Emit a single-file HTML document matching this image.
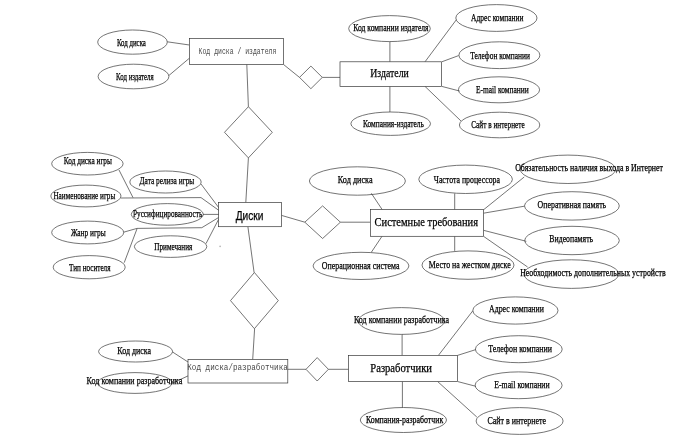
<!DOCTYPE html>
<html><head><meta charset="utf-8"><title>ER</title>
<style>html,body{margin:0;padding:0;background:#fff}svg{display:block;filter:blur(0.25px)}</style></head>
<body>
<svg width="675" height="446" viewBox="0 0 675 446">
<rect x="0" y="0" width="675" height="446" fill="#fff"/>
<g fill="none" stroke="#333" stroke-width="0.68">
<polyline points="167.3,41.8 189.4,45"/>
<polyline points="168.9,75.5 189.4,58.2"/>
<polyline points="283.4,64.4 299.5,77.4"/>
<polyline points="322.3,77.4 340,77.4"/>
<polyline points="246.8,64.4 248.4,106.7"/>
<polyline points="248.4,157.9 245.8,202.5"/>
<polyline points="389.9,41.6 389.9,61.8"/>
<polyline points="389.9,86.4 389.9,112"/>
<polyline points="425,61.8 456.3,19.8"/>
<polyline points="441.8,61.8 458.6,55.6"/>
<polyline points="441.8,86.4 459.5,91"/>
<polyline points="425,86.4 461,121"/>
<polyline points="119,170 133,197.6"/>
<polyline points="121,198 201,197.6 219,210.5"/>
<polyline points="201,184 219,208"/>
<polyline points="203,214.4 219,214.4"/>
<polyline points="123.6,232.2 137,228.4 201.8,227.7 218.6,217.5"/>
<polyline points="124.2,262.7 137,228.8"/>
<polyline points="206,243.6 218.6,219.3"/>
<polyline points="281.5,215.4 304.8,222.2"/>
<polyline points="340.4,222.2 370.4,222.2"/>
<polyline points="371.3,193.3 382.2,209.6"/>
<polyline points="382,236.3 371.3,252.3"/>
<polyline points="454.7,193.5 454.7,209.6"/>
<polyline points="454.7,236.3 454.7,250.9"/>
<polyline points="483.5,209.8 524.2,177"/>
<polyline points="483.5,213.2 524.4,206.2"/>
<polyline points="483.5,230.3 526.3,241.3"/>
<polyline points="483.5,236.3 527.6,267"/>
<polyline points="247.9,226.7 254.1,272.5"/>
<polyline points="254.6,328.7 252.7,359.5"/>
<polyline points="172.4,351.9 188,362"/>
<polyline points="172.1,383.3 188,375.9"/>
<polyline points="287.8,369.3 306,369.3"/>
<polyline points="328.4,369.3 348.6,369.3"/>
<polyline points="402.1,334.4 402.1,355.4"/>
<polyline points="402.4,381.5 402.4,407.5"/>
<polyline points="438.4,355.4 472.8,310.8"/>
<polyline points="457.5,355.4 475.8,349.6"/>
<polyline points="457.5,381.5 475.8,386.3"/>
<polyline points="437.6,381.5 476.8,417"/>
<polygon points="310.9,66.1 322.3,77.4 310.9,88.7 299.5,77.4" fill="#fff"/>
<polygon points="248.4,106.7 272.3,132.3 248.4,157.9 224.5,132.3" fill="#fff"/>
<polygon points="322.6,205.9 340.4,222.2 322.6,238.5 304.8,222.2" fill="#fff"/>
<polygon points="254.4,272.5 278.3,300.6 254.4,328.7 230.5,300.6" fill="#fff"/>
<polygon points="317.2,357.6 328.4,369.3 317.2,381 306,369.3" fill="#fff"/>
<rect x="189.4" y="38.4" width="94" height="26" fill="#fff"/>
<rect x="340" y="61.8" width="101.4" height="24.6" fill="#fff"/>
<rect x="218.6" y="202.5" width="62.9" height="24.2" fill="#fff"/>
<rect x="370.4" y="209.6" width="113.1" height="26.7" fill="#fff"/>
<rect x="188" y="359.5" width="99.8" height="23.5" fill="#fff"/>
<rect x="348.6" y="355.4" width="108.9" height="26.1" fill="#fff"/>
<ellipse cx="132.5" cy="42.1" rx="34.8" ry="12.1"/>
<ellipse cx="133.5" cy="76.5" rx="35.4" ry="12.3"/>
<ellipse cx="389.5" cy="28.6" rx="40.8" ry="13"/>
<ellipse cx="390.7" cy="123.7" rx="39.8" ry="11.7"/>
<ellipse cx="496.4" cy="18" rx="40.6" ry="13.4"/>
<ellipse cx="499.4" cy="55.2" rx="40.5" ry="13.4"/>
<ellipse cx="499" cy="89.8" rx="40.6" ry="13"/>
<ellipse cx="499.6" cy="125" rx="40.2" ry="12.8"/>
<ellipse cx="87.4" cy="163.7" rx="35.7" ry="11.3"/>
<ellipse cx="85.9" cy="196" rx="35.1" ry="10.9"/>
<ellipse cx="165.5" cy="182" rx="35.7" ry="11"/>
<ellipse cx="167.3" cy="214.4" rx="36" ry="10.8"/>
<ellipse cx="87.7" cy="232.5" rx="36" ry="11.4"/>
<ellipse cx="170.6" cy="246.6" rx="36.2" ry="10.8"/>
<ellipse cx="89.2" cy="267.2" rx="36" ry="11.6"/>
<ellipse cx="357.4" cy="181" rx="48" ry="14.2"/>
<ellipse cx="465.6" cy="179.3" rx="46.8" ry="14.2"/>
<ellipse cx="468" cy="265.1" rx="46" ry="14.2"/>
<ellipse cx="361" cy="265.9" rx="47.9" ry="13.6"/>
<ellipse cx="567.9" cy="169.3" rx="47.7" ry="14.2"/>
<ellipse cx="571.9" cy="205.9" rx="47.4" ry="14.2"/>
<ellipse cx="572" cy="240.5" rx="47.3" ry="14.2"/>
<ellipse cx="571.3" cy="274.1" rx="47.5" ry="14.3"/>
<ellipse cx="135.6" cy="351.5" rx="37" ry="10.5"/>
<ellipse cx="135" cy="383" rx="37.1" ry="10.4"/>
<ellipse cx="401.4" cy="321" rx="43.1" ry="13.4"/>
<ellipse cx="403.4" cy="420" rx="43.1" ry="12.5"/>
<ellipse cx="515.4" cy="310.5" rx="42.6" ry="13.6"/>
<ellipse cx="518.8" cy="349.2" rx="43.4" ry="13.5"/>
<ellipse cx="518.6" cy="385.3" rx="43.5" ry="13.4"/>
<ellipse cx="519.6" cy="421" rx="43.5" ry="13.4"/>
</g>
<circle cx="220.1" cy="246.4" r="0.8" fill="#b0b0b0"/>
<text x="116.9" y="46.4" fill="#000" stroke="#000" stroke-width="0.25" font-family='"Liberation Serif", serif' font-size="10" textLength="29" lengthAdjust="spacingAndGlyphs">Код диска</text>
<text x="116.1" y="79.5" fill="#000" stroke="#000" stroke-width="0.25" font-family='"Liberation Serif", serif' font-size="10" textLength="37.5" lengthAdjust="spacingAndGlyphs">Код издателя</text>
<text x="353.3" y="30.8" fill="#000" stroke="#000" stroke-width="0.25" font-family='"Liberation Serif", serif' font-size="10" textLength="75.3" lengthAdjust="spacingAndGlyphs">Код компании издателя</text>
<text x="363" y="126.5" fill="#000" stroke="#000" stroke-width="0.25" font-family='"Liberation Serif", serif' font-size="10" textLength="60.8" lengthAdjust="spacingAndGlyphs">Компания-издатель</text>
<text x="471.1" y="20.5" fill="#000" stroke="#000" stroke-width="0.25" font-family='"Liberation Serif", serif' font-size="10" textLength="52.3" lengthAdjust="spacingAndGlyphs">Адрес компании</text>
<text x="470.2" y="58.5" fill="#000" stroke="#000" stroke-width="0.25" font-family='"Liberation Serif", serif' font-size="10" textLength="59.8" lengthAdjust="spacingAndGlyphs">Телефон компании</text>
<text x="475.9" y="92.6" fill="#000" stroke="#000" stroke-width="0.25" font-family='"Liberation Serif", serif' font-size="10" textLength="52.8" lengthAdjust="spacingAndGlyphs">E-mail компании</text>
<text x="471.2" y="127.8" fill="#000" stroke="#000" stroke-width="0.25" font-family='"Liberation Serif", serif' font-size="10" textLength="53.5" lengthAdjust="spacingAndGlyphs">Сайт в интернете</text>
<text x="63.8" y="163.9" fill="#000" stroke="#000" stroke-width="0.25" font-family='"Liberation Serif", serif' font-size="9.6" textLength="48.1" lengthAdjust="spacingAndGlyphs">Код диска игры</text>
<text x="53.4" y="198.8" fill="#000" stroke="#000" stroke-width="0.25" font-family='"Liberation Serif", serif' font-size="10" textLength="61.9" lengthAdjust="spacingAndGlyphs">Наименование игры</text>
<text x="139.6" y="184" fill="#000" stroke="#000" stroke-width="0.25" font-family='"Liberation Serif", serif' font-size="10" textLength="54.7" lengthAdjust="spacingAndGlyphs">Дата релиза игры</text>
<text x="133" y="217" fill="#000" stroke="#000" stroke-width="0.25" font-family='"Liberation Serif", serif' font-size="10" textLength="69.3" lengthAdjust="spacingAndGlyphs">Руссифицированность</text>
<text x="70.9" y="235.8" fill="#000" stroke="#000" stroke-width="0.25" font-family='"Liberation Serif", serif' font-size="10" textLength="34.7" lengthAdjust="spacingAndGlyphs">Жанр игры</text>
<text x="154.3" y="250" fill="#000" stroke="#000" stroke-width="0.25" font-family='"Liberation Serif", serif' font-size="10" textLength="38" lengthAdjust="spacingAndGlyphs">Примечания</text>
<text x="69" y="270.5" fill="#000" stroke="#000" stroke-width="0.25" font-family='"Liberation Serif", serif' font-size="10" textLength="41.5" lengthAdjust="spacingAndGlyphs">Тип носителя</text>
<text x="337.8" y="182.8" fill="#000" stroke="#000" stroke-width="0.25" font-family='"Liberation Serif", serif' font-size="10" textLength="34.8" lengthAdjust="spacingAndGlyphs">Код диска</text>
<text x="433.8" y="182.8" fill="#000" stroke="#000" stroke-width="0.25" font-family='"Liberation Serif", serif' font-size="10" textLength="66.2" lengthAdjust="spacingAndGlyphs">Частота процессора</text>
<text x="428.8" y="267.9" fill="#000" stroke="#000" stroke-width="0.25" font-family='"Liberation Serif", serif' font-size="10" textLength="81.9" lengthAdjust="spacingAndGlyphs">Место на жестком диске</text>
<text x="321.8" y="268.7" fill="#000" stroke="#000" stroke-width="0.25" font-family='"Liberation Serif", serif' font-size="10" textLength="77.6" lengthAdjust="spacingAndGlyphs">Операционная система</text>
<text x="515.2" y="170.8" fill="#000" stroke="#000" stroke-width="0.25" font-family='"Liberation Serif", serif' font-size="10" textLength="147.8" lengthAdjust="spacingAndGlyphs">Обязательность наличия выхода в Интернет</text>
<text x="537.6" y="207.8" fill="#000" stroke="#000" stroke-width="0.25" font-family='"Liberation Serif", serif' font-size="10" textLength="68.6" lengthAdjust="spacingAndGlyphs">Оперативная память</text>
<text x="549.3" y="242.3" fill="#000" stroke="#000" stroke-width="0.25" font-family='"Liberation Serif", serif' font-size="10" textLength="43.8" lengthAdjust="spacingAndGlyphs">Видеопамять</text>
<text x="520.2" y="276.1" fill="#000" stroke="#000" stroke-width="0.25" font-family='"Liberation Serif", serif' font-size="10" textLength="145.5" lengthAdjust="spacingAndGlyphs">Необходимость дополнительных устройств</text>
<text x="117.3" y="354" fill="#000" stroke="#000" stroke-width="0.25" font-family='"Liberation Serif", serif' font-size="10" textLength="33.8" lengthAdjust="spacingAndGlyphs">Код диска</text>
<text x="86.6" y="384.2" fill="#000" stroke="#000" stroke-width="0.25" font-family='"Liberation Serif", serif' font-size="10.5" textLength="95.6" lengthAdjust="spacingAndGlyphs">Код компании разработчика</text>
<text x="353.9" y="322.9" fill="#000" stroke="#000" stroke-width="0.25" font-family='"Liberation Serif", serif' font-size="10.5" textLength="95.1" lengthAdjust="spacingAndGlyphs">Код компании разработчика</text>
<text x="366" y="423.4" fill="#000" stroke="#000" stroke-width="0.25" font-family='"Liberation Serif", serif' font-size="10" textLength="77.2" lengthAdjust="spacingAndGlyphs">Компания-разработчик</text>
<text x="489.1" y="312.3" fill="#000" stroke="#000" stroke-width="0.25" font-family='"Liberation Serif", serif' font-size="10" textLength="54.8" lengthAdjust="spacingAndGlyphs">Адрес компании</text>
<text x="488.2" y="351.9" fill="#000" stroke="#000" stroke-width="0.25" font-family='"Liberation Serif", serif' font-size="10" textLength="63.7" lengthAdjust="spacingAndGlyphs">Телефон компании</text>
<text x="494.2" y="388" fill="#000" stroke="#000" stroke-width="0.25" font-family='"Liberation Serif", serif' font-size="10" textLength="55.5" lengthAdjust="spacingAndGlyphs">E-mail компании</text>
<text x="487.5" y="424.1" fill="#000" stroke="#000" stroke-width="0.25" font-family='"Liberation Serif", serif' font-size="10" textLength="58.6" lengthAdjust="spacingAndGlyphs">Сайт в интернете</text>
<text x="198.6" y="54.2" fill="#484848" stroke="#484848" stroke-width="0" font-family='"Liberation Mono", monospace' font-size="8.7" textLength="77.7" lengthAdjust="spacingAndGlyphs">Код диска / издателя</text>
<text x="370.3" y="77.1" fill="#000" stroke="#000" stroke-width="0.25" font-family='"Liberation Serif", serif' font-size="12.4" textLength="38.5" lengthAdjust="spacingAndGlyphs">Издатели</text>
<text x="235.7" y="220.2" fill="#000" stroke="#000" stroke-width="0.25" font-family='"Liberation Sans", sans-serif' font-size="13.3" textLength="27.7" lengthAdjust="spacingAndGlyphs">Диски</text>
<text x="374.6" y="225.9" fill="#000" stroke="#000" stroke-width="0.25" font-family='"Liberation Serif", serif' font-size="13" textLength="103.4" lengthAdjust="spacingAndGlyphs">Системные требования</text>
<text x="187.3" y="370.2" fill="#484848" stroke="#484848" stroke-width="0" font-family='"Liberation Mono", monospace' font-size="8.5" textLength="100.5" lengthAdjust="spacingAndGlyphs">Код диска/разработчика</text>
<text x="370.3" y="371.8" fill="#000" stroke="#000" stroke-width="0.25" font-family='"Liberation Serif", serif' font-size="12.5" textLength="61.7" lengthAdjust="spacingAndGlyphs">Разработчики</text>
</svg></body></html>
